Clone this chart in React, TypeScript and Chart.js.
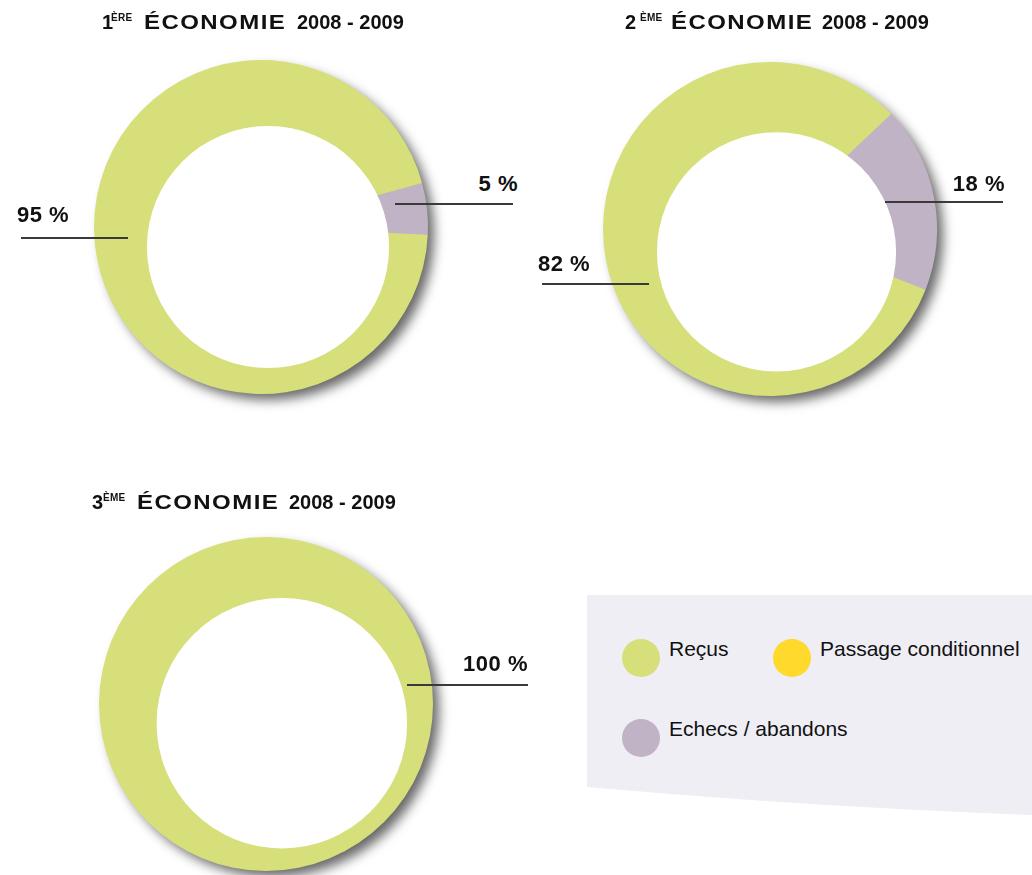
import React, { useEffect, useRef } from 'react';
import { Chart, registerables } from 'chart.js';

Chart.register(...registerables);

// ---- data ----
const CATEGORIES = ['Reçus', 'Passage conditionnel', 'Echecs / abandons'];
const COLORS = ['#d6df79', '#ffd92b', '#c0b3c5'];
const ECO1 = [95, 0, 5];
const ECO2 = [82, 0, 18];
const ECO3 = [100, 0, 0];
const TITLE_NUMS = ['1', '2', '3'];
const TITLE_SUPS = ['ÈRE', 'ÈME', 'ÈME'];
const TITLE_WORD = 'ÉCONOMIE';
const TITLE_YEARS = '2008 - 2009';

const FONT = '"Liberation Sans", Arial, sans-serif';

const ringPlugin = {
  id: 'ring',
  beforeDatasetsDraw(chart: any, _args: any, opts: any) {
    const arc = chart.getDatasetMeta(0).data[0];
    if (!arc) return;
    const { x, y, outerRadius } = arc as any;
    const ctx = chart.ctx;
    ctx.save();
    ctx.beginPath();
    ctx.arc(x, y, outerRadius - 1, 0, Math.PI * 2);
    ctx.shadowColor = 'rgba(0,0,0,0.6)';
    ctx.shadowBlur = 12;
    ctx.shadowOffsetX = 7;
    ctx.shadowOffsetY = 7;
    ctx.fillStyle = COLORS[0];
    ctx.fill();
    ctx.restore();
  },
  afterDatasetsDraw(chart: any, _args: any, opts: any) {
    const arc = chart.getDatasetMeta(0).data[0];
    if (!arc) return;
    const { x, y, outerRadius } = arc as any;
    const ctx = chart.ctx;
    ctx.save();
    ctx.beginPath();
    ctx.arc(x + opts.dx * outerRadius, y + opts.dy * outerRadius, opts.r * outerRadius, 0, Math.PI * 2);
    ctx.fillStyle = '#ffffff';
    ctx.fill();
    ctx.restore();
  },
};

function Ring({ values, rotation, hole, left, top }: any) {
  const ref = useRef<HTMLCanvasElement>(null);
  useEffect(() => {
    const chart = new Chart(ref.current!, {
      type: 'pie',
      data: {
        labels: CATEGORIES,
        datasets: [{ data: values, backgroundColor: COLORS, borderWidth: 0 }],
      },
      options: {
        responsive: false,
        animation: false,
        rotation,
        events: [],
        layout: { padding: 33 },
        plugins: {
          legend: { display: false },
          tooltip: { enabled: false },
          ring: hole,
        } as any,
      },
      plugins: [ringPlugin],
    });
    return () => chart.destroy();
  }, []);
  return (
    <canvas
      ref={ref}
      width={400}
      height={400}
      style={{ position: 'absolute', left, top, width: 400, height: 400 }}
    />
  );
}

function Title({ idx, x, supX, wordX, yearX, top }: any) {
  const base: React.CSSProperties = {
    position: 'absolute',
    fontFamily: FONT,
    fontWeight: 700,
    color: '#111',
    whiteSpace: 'nowrap',
  };
  return (
    <>
      <div style={{ ...base, left: x, top, fontSize: 20, lineHeight: '20px' }}>{TITLE_NUMS[idx]}</div>
      <div style={{ ...base, left: supX, top: top + 0.5, fontSize: 10, lineHeight: '10px', letterSpacing: 0.3 }}>
        {TITLE_SUPS[idx]}
      </div>
      <div
        style={{
          ...base,
          left: wordX,
          top,
          fontSize: 20,
          lineHeight: '20px',
          letterSpacing: 1.2,
          transform: 'scaleX(1.2)',
          transformOrigin: 'left top',
        }}
      >
        {TITLE_WORD}
      </div>
      <div style={{ ...base, left: yearX, top, fontSize: 20, lineHeight: '20px' }}>{TITLE_YEARS}</div>
    </>
  );
}

function Label({ text, x, top, align, line }: any) {
  const style: React.CSSProperties = {
    position: 'absolute',
    top,
    fontFamily: FONT,
    fontWeight: 700,
    fontSize: 22,
    lineHeight: '22px',
    letterSpacing: 0.5,
    color: '#111',
    whiteSpace: 'nowrap',
  };
  if (align === 'right') style.right = 1032 - x;
  else style.left = x;
  return (
    <>
      <div style={style}>{text}</div>
      <div
        style={{
          position: 'absolute',
          left: line[0],
          top: line[2],
          width: line[1] - line[0],
          height: 2,
          background: '#3a3a3a',
        }}
      />
    </>
  );
}

function Legend() {
  const dot = (cx: number, cy: number, color: string) => (
    <div
      style={{
        position: 'absolute',
        left: cx - 19,
        top: cy - 19,
        width: 38,
        height: 38,
        borderRadius: '50%',
        background: color,
      }}
    />
  );
  const txt = (x: number, top: number, s: string) => (
    <div
      style={{
        position: 'absolute',
        left: x,
        top,
        fontFamily: FONT,
        fontSize: 21,
        lineHeight: '21px',
        color: '#111',
        whiteSpace: 'nowrap',
      }}
    >
      {s}
    </div>
  );
  return (
    <>
      <svg style={{ position: 'absolute', left: 0, top: 0 }} width={1032} height={875}>
        <path d="M587,595 L1032,595 L1032,815 Q810,807 587,787 Z" fill="#efeef5" />
      </svg>
      {dot(641, 658, COLORS[0])}
      {txt(669, 638, CATEGORIES[0])}
      {dot(792, 658, COLORS[1])}
      {txt(820, 638, CATEGORIES[1])}
      {dot(641, 738, COLORS[2])}
      {txt(669, 718, CATEGORIES[2])}
    </>
  );
}

export default function App() {
  return (
    <div
      style={{
        position: 'absolute',
        left: 0,
        top: 0,
        width: 1032,
        height: 875,
        overflow: 'hidden',
        background: '#fff',
      }}
    >
      <Legend />
      <Ring values={ECO1} rotation={92.7} hole={{ dx: 0.042, dy: 0.12, r: 0.725 }} left={61} top={27} />
      <Ring values={ECO2} rotation={111.3} hole={{ dx: 0.039, dy: 0.137, r: 0.716 }} left={570} top={29} />
      <Ring values={ECO3} rotation={0} hole={{ dx: 0.095, dy: 0.115, r: 0.75 }} left={66} top={504} />

      <Title idx={0} x={102} supX={111} wordX={144} yearX={297} top={12} />
      <Title idx={1} x={625} supX={640} wordX={671} yearX={822} top={12} />
      <Title idx={2} x={92} supX={103} wordX={137} yearX={289} top={492} />

      <Label text={`${ECO1[0]} %`} x={17} top={204} line={[21, 128, 237]} />
      <Label text={`${ECO1[2]} %`} x={518} top={173} align="right" line={[395, 513, 203]} />
      <Label text={`${ECO2[2]} %`} x={1005} top={173} align="right" line={[885, 1003, 201]} />
      <Label text={`${ECO2[0]} %`} x={538} top={253} line={[542, 649, 283]} />
      <Label text={`${ECO3[0]} %`} x={528} top={653} align="right" line={[407, 528, 684]} />
    </div>
  );
}
